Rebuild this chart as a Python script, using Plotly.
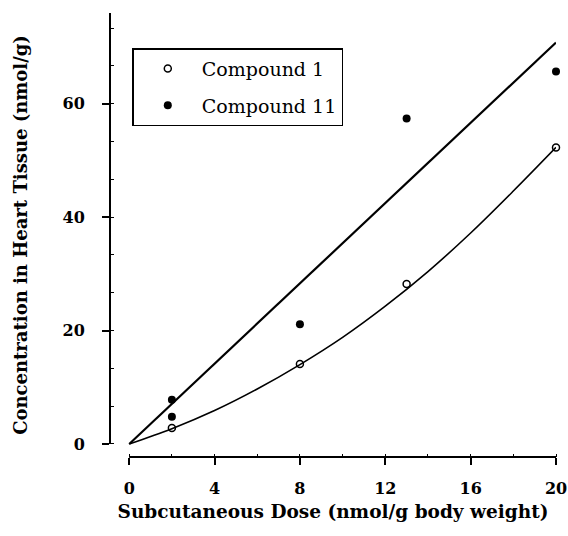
import plotly.graph_objects as go

# Data
dose_c1 = [2, 8, 13, 20]
conc_c1 = [2.8, 14.1, 28.2, 52.3]

dose_c11 = [2, 2, 8, 13, 20]
conc_c11 = [7.8, 4.8, 21.1, 57.4, 65.7]

# Fitted curve for compound 1
fit1_x = [0, 2, 4, 6, 8, 10, 12, 14, 16, 18, 20]
fit1_y = [0, 2.7, 5.9, 9.7, 14.0, 18.8, 24.3, 30.4, 37.2, 44.6, 52.3]

# Fitted straight line for compound 11
fit11_x = [0, 20]
fit11_y = [0, 70.8]

x_ticks = [0, 4, 8, 12, 16, 20]
y_ticks = [0, 20, 40, 60]

FONT = "DejaVu Serif"

fig = go.Figure()
fig.add_trace(go.Scatter(x=fit11_x, y=fit11_y, mode="lines",
                         line=dict(color="black", width=2.2),
                         showlegend=False, hoverinfo="skip", cliponaxis=False))
fig.add_trace(go.Scatter(x=fit1_x, y=fit1_y, mode="lines",
                         line=dict(color="black", width=1.6, shape="spline"),
                         showlegend=False, hoverinfo="skip", cliponaxis=False))
fig.add_trace(go.Scatter(x=dose_c1, y=conc_c1, mode="markers", name="Compound 1",
                         legendgroup="a",
                         marker=dict(symbol="circle-open", size=7, color="black",
                                     line=dict(width=1.5, color="black")),
                         cliponaxis=False))
fig.add_trace(go.Scatter(x=dose_c11, y=conc_c11, mode="markers", name="Compound 11",
                         legendgroup="b",
                         marker=dict(symbol="circle", size=8, color="black"),
                         cliponaxis=False))

# partial axis lines like the original
fig.add_shape(type="line", xref="x", yref="paper", x0=0, x1=20, y0=0, y1=0,
              line=dict(color="black", width=2))
fig.add_shape(type="line", xref="paper", yref="y", x0=0, x1=0, y0=0, y1=76,
              line=dict(color="black", width=2))

fig.update_layout(
    width=568, height=536,
    margin=dict(l=110, r=12, t=13, b=79),
    paper_bgcolor="white", plot_bgcolor="white",
    font=dict(family=FONT, color="black"),
    legend=dict(x=0.05, y=0.921, xanchor="left", yanchor="top",
                bordercolor="black", borderwidth=1.5, bgcolor="white",
                font=dict(family=FONT, size=19), tracegroupgap=9,
                itemwidth=58),
    showlegend=True,
)
fig.update_xaxes(
    automargin=False,
    range=[-0.9, 20], showgrid=False, zeroline=False, showline=False,
    tickvals=x_ticks, ticks="outside", ticklen=7, tickwidth=1.5, tickcolor="black",
    tickfont=dict(family=FONT, size=16, weight="bold"), ticklabelstandoff=10,
    minor=dict(dtick=2, tick0=0, ticks="inside", ticklen=3, tickcolor="black", tickwidth=1),
    title=dict(text="Subcutaneous Dose (nmol/g body weight)",
               font=dict(family=FONT, size=18.5, weight="bold"), standoff=7),
)
fig.update_yaxes(
    automargin=False,
    range=[-2.3, 76], showgrid=False, zeroline=False, showline=False,
    tickvals=y_ticks, ticks="outside", ticklen=7, tickwidth=1.5, tickcolor="black",
    tickfont=dict(family=FONT, size=16, weight="bold"), ticklabelstandoff=14,
    minor=dict(dtick=20/3, tick0=0, ticks="inside", ticklen=4, tickcolor="black", tickwidth=1),
    title=dict(text="Concentration in Heart Tissue (nmol/g)",
               font=dict(family=FONT, size=18, weight="bold"), standoff=30),
)

# remove the browser's default page margin so the figure fills the window exactly
fig.write_html("out.html", config={"displayModeBar": False},
               post_script="document.body.style.margin='0';document.body.style.overflow='hidden';")
